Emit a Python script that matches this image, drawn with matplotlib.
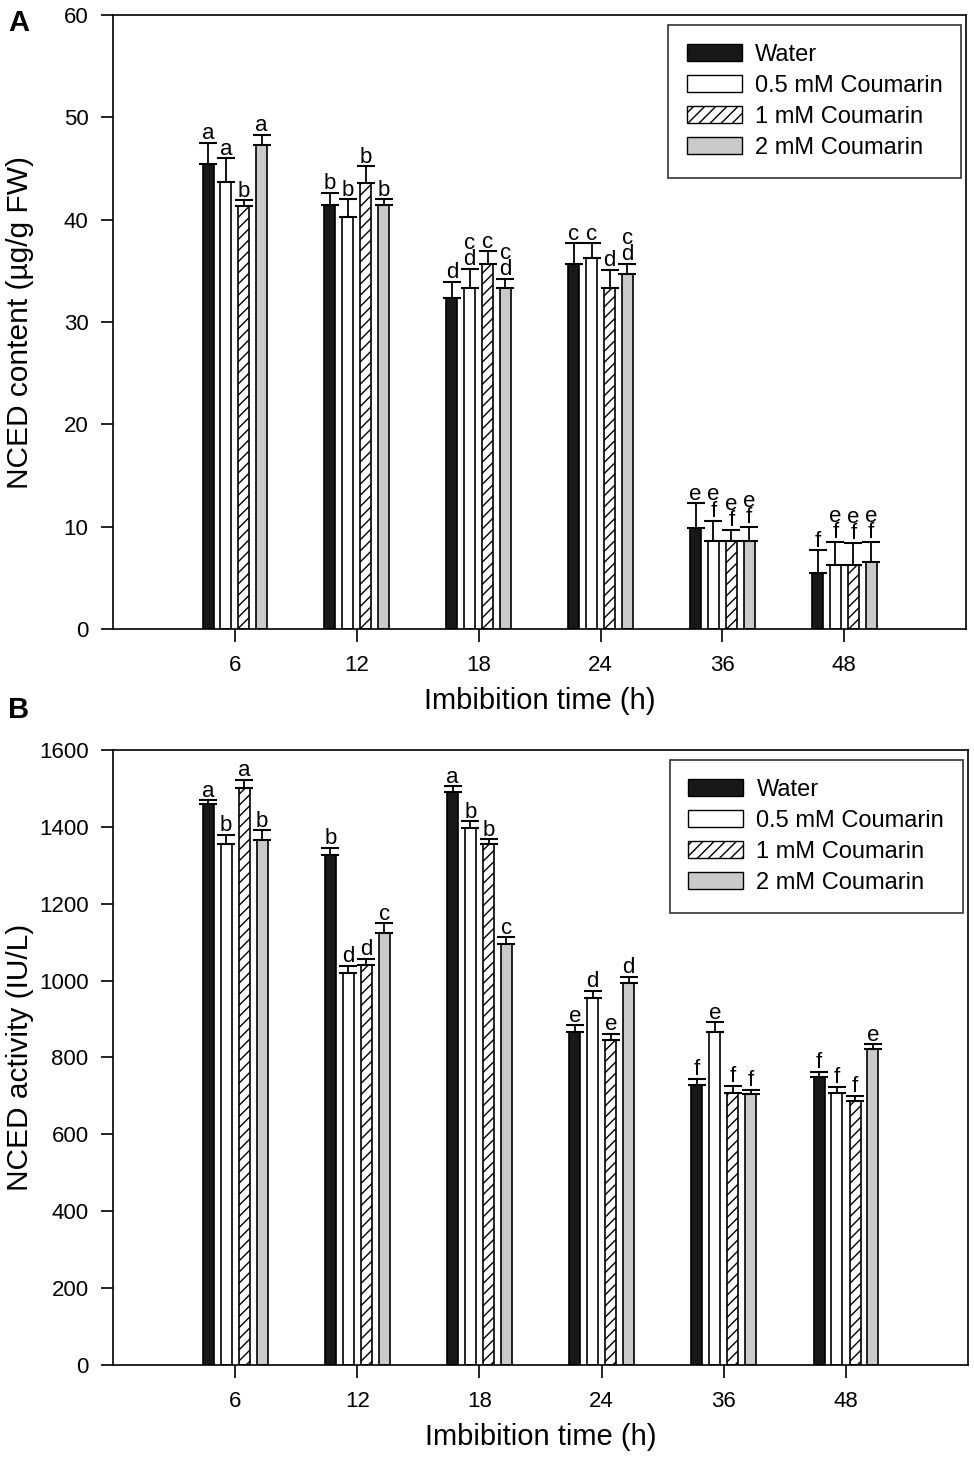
import numpy as np
import matplotlib; matplotlib.use('Agg')
import matplotlib.pyplot as plt
from matplotlib.patches import Patch

plt.rcParams['font.family'] = ['Liberation Sans', 'DejaVu Sans']
plt.rcParams['hatch.linewidth'] = 1.0

# data
times = ['6', '12', '18', '24', '36', '48']
series = ['Water', '0.5 mM Coumarin', '1 mM Coumarin', '2 mM Coumarin']

a_water = [45.4, 41.4, 32.3, 35.7, 9.9, 5.5]
a_water_err = [2.1, 1.2, 1.6, 2.0, 2.4, 2.2]
a_c05 = [43.7, 40.3, 33.3, 36.3, 8.6, 6.3]
a_c05_err = [2.3, 1.7, 1.9, 1.4, 2.0, 2.2]
a_c1 = [41.3, 43.6, 35.7, 33.3, 8.6, 6.3]
a_c1_err = [0.6, 1.6, 1.2, 1.8, 1.1, 2.1]
a_c2 = [47.3, 41.4, 33.3, 34.7, 8.6, 6.5]
a_c2_err = [1.0, 0.6, 0.9, 1.0, 1.4, 2.0]
a_letters = [['a', 'b', 'd', 'c', 'e', 'f'],
             ['a', 'b', 'c\nd', 'c', 'e\nf', 'e\nf'],
             ['b', 'b', 'c', 'd', 'e\nf', 'e\nf'],
             ['a', 'b', 'c\nd', 'c\nd', 'e\nf', 'e\nf']]

b_water = [1459, 1327, 1490, 866, 728, 749]
b_water_err = [10, 18, 15, 18, 16, 14]
b_c05 = [1356, 1020, 1396, 955, 865, 707]
b_c05_err = [23, 19, 18, 18, 27, 17]
b_c1 = [1502, 1041, 1354, 845, 708, 686]
b_c1_err = [21, 15, 14, 17, 19, 15]
b_c2 = [1367, 1124, 1095, 993, 706, 821]
b_c2_err = [24, 25, 18, 17, 10, 13]
b_letters = [['a', 'b', 'a', 'e', 'f', 'f'],
             ['b', 'd', 'b', 'd', 'e', 'f'],
             ['a', 'd', 'b', 'e', 'f', 'f'],
             ['b', 'c', 'c', 'd', 'f', 'e']]

faces = ['#1a1717', 'white', 'white', '#c8cacb']
hatches = [None, None, '///', None]
offsets = [-0.22, -0.074, 0.074, 0.22]
bw = 0.09

fig = plt.figure(figsize=(9.74, 14.59), dpi=100)
axA = fig.add_axes([0.116, 0.5689, 0.876, 0.4208])
axB = fig.add_axes([0.116, 0.0644, 0.878, 0.4216])

def panel(ax, vals, errs, letters, ylim, yticks, ylabel, leg_anchor):
    x = np.arange(len(times))
    for i in range(4):
        ax.bar(x + offsets[i], vals[i], bw, color=faces[i], edgecolor='black',
               linewidth=1.2, hatch=hatches[i], zorder=2)
        ax.errorbar(x + offsets[i], vals[i], yerr=[np.zeros(len(times)), errs[i]],
                    fmt='none', ecolor='black', elinewidth=1.3, capsize=6.5, capthick=1.5, zorder=3)
        for j in range(len(times)):
            ax.annotate(letters[i][j], (x[j] + offsets[i], vals[i][j] + errs[i][j]),
                        xytext=(0, -1), textcoords='offset points', ha='center', va='bottom',
                        fontsize=16, linespacing=0.72, zorder=4)
    ax.set_xlim(-1, 6)
    ax.set_ylim(*ylim)
    ax.set_yticks(yticks)
    ax.set_xticks(x)
    ax.set_xticklabels(times)
    ax.tick_params(axis='both', direction='out', length=9, width=1.2, labelsize=16)
    ax.tick_params(axis='x', pad=9.5)
    ax.tick_params(axis='y', pad=8.6)
    for s in ax.spines.values():
        s.set_linewidth(1.2)
    ax.set_xlabel('Imbibition time (h)', fontsize=21, labelpad=8)
    ax.set_ylabel(ylabel, fontsize=21.5)
    ax.yaxis.set_label_coords(-0.092, 0.5)
    handles = [Patch(facecolor=faces[i], edgecolor='black', hatch=hatches[i], linewidth=1.0)
               for i in range(4)]
    leg = ax.legend(handles, series, loc='upper right', bbox_to_anchor=leg_anchor,
                    fontsize=17, frameon=True, fancybox=False, edgecolor='black',
                    handlelength=2.33, handleheight=0.76, handletextpad=0.55,
                    labelspacing=0.38, borderpad=0.8, borderaxespad=0)
    leg.get_frame().set_linewidth(1.2)

panel(axA, [a_water, a_c05, a_c1, a_c2], [a_water_err, a_c05_err, a_c1_err, a_c2_err],
      a_letters, (0, 60), np.arange(0, 61, 10), 'NCED content (µg/g FW)', (0.9941, 0.9837))
panel(axB, [b_water, b_c05, b_c1, b_c2], [b_water_err, b_c05_err, b_c1_err, b_c2_err],
      b_letters, (0, 1600), np.arange(0, 1601, 200), 'NCED activity (IU/L)', (0.9941, 0.9837))

fig.text(8 / 974, 1 - 23 / 1459, 'A', fontsize=21, fontweight='bold', va='center', ha='left')
fig.text(8 / 974, 1 - 710 / 1459, 'B', fontsize=21, fontweight='bold', va='center', ha='left')

fig.savefig('out.png', dpi=100, facecolor='white')
